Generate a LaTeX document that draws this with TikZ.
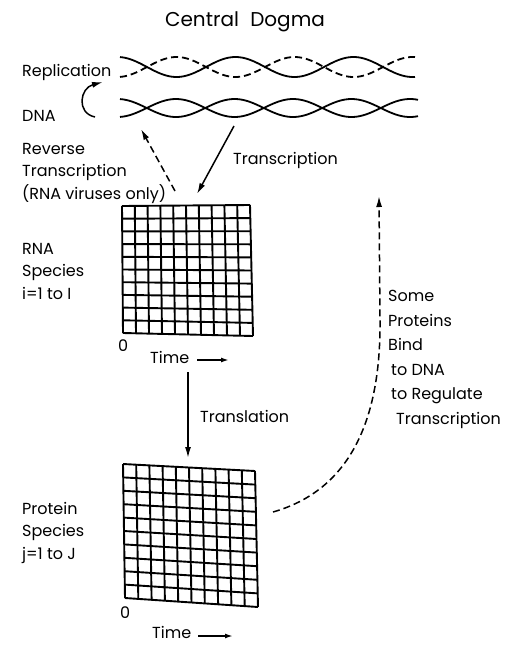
\documentclass[tikz,border=0pt]{standalone}
\usepackage{fontspec}
\setmainfont{Poppins}
\usetikzlibrary{arrows.meta, calc, positioning}

\tikzset{
    lbl/.style={inner sep=0pt, align=left, anchor=base west, font=\fontsize{16}{22.5}\selectfont},
    strand/.style={line width=1.8pt},
    dashstrand/.style={line width=1.8pt, dash pattern=on 7pt off 4pt},
    gridline/.style={line width=1.9pt},
    flow/.style={line width=1.5pt, -{Latex[length=11pt, width=6pt]}},
    timearrow/.style={line width=1.6pt, -{Latex[length=8pt, width=5pt]}},
}

\begin{document}
\begin{tikzpicture}[x=1pt, y=-1pt]
    \useasboundingbox (0,0) rectangle (519,670);

    \node[font=\fontsize{20}{24}\selectfont] (title) at (245,22) {Central\hspace{0.3em} Dogma};

    % helices
    \draw[strand] plot[domain=120:415, samples=120] (\x, {67 - 10*cos((\x-117.5)*3.0508)});
    \draw[dashstrand] plot[domain=120:415, samples=120] (\x, {67 + 10*cos((\x-117.5)*3.0508)});
    \draw[strand] plot[domain=120:418, samples=120] (\x, {108 - 9*cos((\x-117.5)*3.0769)});
    \draw[strand] plot[domain=120:418, samples=120] (\x, {108 + 9*cos((\x-117.5)*3.0769)});

    \node[lbl] (repl) at (22,76) {Replication};
    \node[lbl] (dna) at (22,121) {DNA};
    \node[lbl] (revtr) at (22,199) {Reverse\\Transcription\\(RNA viruses only)};
    \node[lbl] (transcr) at (233,164) {Transcription};

    \coordinate (dnaL) at (95,117);
    \coordinate (replL) at (103,82);
    \draw[flow] (dnaL) .. controls (76,113) and (80,88) .. (replL);

    % RNA grid
    \coordinate (rnaTL) at (122,206);
    \coordinate (rnaTR) at (250,205);
    \coordinate (rnaBL) at (123,333);
    \coordinate (rnaBR) at (253,336);
    \foreach \i in {0,...,10} {
        \draw[gridline] ($(rnaTL)!\i/10!(rnaTR)$) -- ($(rnaBL)!\i/10!(rnaBR)$);
        \draw[gridline] ($(rnaTL)!\i/10!(rnaBL)$) -- ($(rnaTR)!\i/10!(rnaBR)$);
    }
    \node[lbl] (rna) at (22,299) {RNA\\Species\\i=1 to I};
    \node[lbl] (zero1) at (118,351) {0};
    \node[lbl] (time1) at (150,363) {Time};
    \coordinate (t1a) at (197,360);
    \coordinate (t1b) at (229,360);
    \draw[timearrow] (t1a) -- (t1b);

    \coordinate (dnaT) at (234,126);
    \coordinate (rnaT) at (197,194);
    \draw[flow] (dnaT) -- (rnaT);
    \coordinate (rnaR) at (175,191);
    \coordinate (dnaR) at (141,129);
    \draw[flow, dash pattern=on 7pt off 4pt] (rnaR) -- (dnaR);

    % translation
    \coordinate (rnaB) at (188,372);
    \coordinate (protT) at (188,458);
    \draw[flow] (rnaB) -- (protT);
    \node[lbl] (transl) at (200,422) {Translation};

    % protein grid
    \coordinate (prTL) at (123,464);
    \coordinate (prTR) at (255,471);
    \coordinate (prBL) at (125,598);
    \coordinate (prBR) at (258,607);
    \foreach \i in {0,...,10} {
        \draw[gridline] ($(prTL)!\i/10!(prTR)$) -- ($(prBL)!\i/10!(prBR)$);
        \draw[gridline] ($(prTL)!\i/10!(prBL)$) -- ($(prTR)!\i/10!(prBR)$);
    }
    \node[lbl] (prot) at (22,559) {Protein\\Species\\j=1 to J};
    \node[lbl] (zero2) at (120,618) {0};
    \node[lbl] (time2) at (152,638) {Time};
    \coordinate (t2a) at (198,636);
    \coordinate (t2b) at (233,636);
    \draw[timearrow] (t2a) -- (t2b);

    % feedback
    \coordinate (prR) at (273,512);
    \coordinate (bindT) at (379,196);
    \draw[flow, dash pattern=on 7pt off 4pt] (prR) .. controls (350,490) and (381,420) .. (380,320) -- (bindT);
    \node[lbl, font=\fontsize{16}{24.5}\selectfont] (bind) at (388,424) {Some\\Proteins\\Bind\\\hspace{3pt}to DNA\\\hspace{3pt}to Regulate\\\hspace{8pt}Transcription};
\end{tikzpicture}
\end{document}
